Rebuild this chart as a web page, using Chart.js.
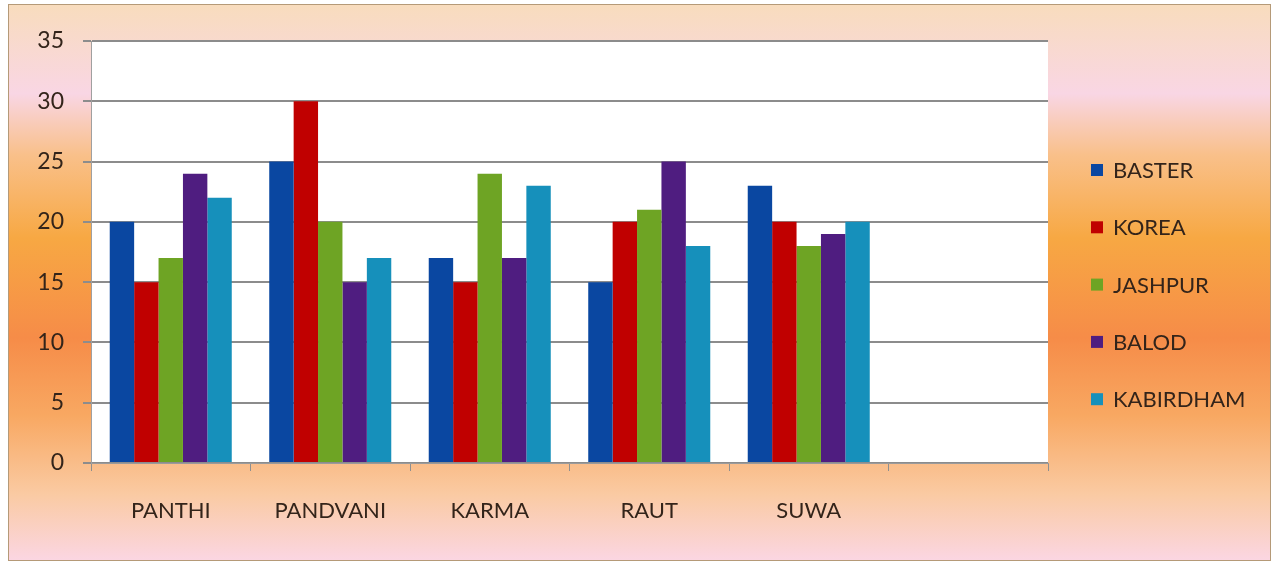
<!DOCTYPE html>
<html>
<head>
<meta charset="utf-8">
<script src="https://cdn.jsdelivr.net/npm/chart.js@4/dist/chart.umd.min.js"></script>
<style>
  html, body { margin: 0; padding: 0; background: #fff; }
  #box {
    position: absolute; left: 8px; top: 4px; width: 1261px; height: 555px;
    border: 1px solid #b59a78;
    background: linear-gradient(to bottom,
      #f8dcbd 0%, #f9d6e4 16%, #f9c08a 27%, #f7a843 42%,
      #f68c48 60%, #f8a862 74%, #facaa2 88%, #fbd6e2 100%);
  }
  #chart { display: block; }
</style>
</head>
<body>
<div id="box"><canvas id="chart" width="1261" height="555"></canvas></div>
<script>
// ===== DATA =====
const categories = ['PANTHI', 'PANDVANI', 'KARMA', 'RAUT', 'SUWA', ''];
const seriesNames = ['BASTER', 'KOREA', 'JASHPUR', 'BALOD', 'KABIRDHAM'];
const baster    = [20, 25, 17, 15, 23, null];
const korea     = [15, 30, 15, 20, 20, null];
const jashpur   = [17, 20, 24, 21, 18, null];
const balod     = [24, 15, 17, 25, 19, null];
const kabirdham = [22, 17, 23, 18, 20, null];
const yTicks = [0, 5, 10, 15, 20, 25, 30, 35];

const colors = ['#0a47a1', '#c00000', '#6ea424', '#4f1d80', '#1690bb'];
const values = [baster, korea, jashpur, balod, kabirdham];

const textColor = '#33241a';
const fontFam = 'Lato, "Open Sans", sans-serif';

// white plot area
const plotBg = {
  id: 'plotBg',
  beforeDraw(chart) {
    const a = chart.chartArea, c = chart.ctx;
    c.save();
    c.fillStyle = '#ffffff';
    c.fillRect(a.left, a.top, a.right - a.left, a.bottom - a.top);
    c.restore();
  }
};

// legend on the right, excel style
const sideLegend = {
  id: 'sideLegend',
  afterDraw(chart) {
    const c = chart.ctx;
    c.save();
    c.font = '22px ' + fontFam;
    c.textBaseline = 'middle';
    chart.data.datasets.forEach((ds, i) => {
      const y = 165 + i * 57.3;
      c.fillStyle = ds.backgroundColor;
      c.fillRect(1082, y - 6, 12, 12);
      c.fillStyle = textColor;
      c.fillText(ds.label, 1104, y + 1);
    });
    c.restore();
  }
};

new Chart(document.getElementById('chart'), {
  type: 'bar',
  data: {
    labels: categories,
    datasets: seriesNames.map((name, i) => ({
      label: name,
      data: values[i],
      backgroundColor: colors[i],
      borderWidth: 0,
      barPercentage: 1.0,
      categoryPercentage: 0.765
    }))
  },
  options: {
    responsive: false,
    animation: false,
    layout: { padding: { top: 36, right: 222, left: 0, bottom: 0 } },
    plugins: {
      legend: { display: false },
      tooltip: { enabled: false }
    },
    scales: {
      x: {
        grid: { offset: true, drawOnChartArea: false, color: '#8f8f8f', tickLength: 8, lineWidth: 1 },
        border: { color: '#9a9a9a', width: 1 },
        ticks: { color: textColor, font: { family: fontFam, size: 22 }, padding: 27 },
        afterFit(s) { s.height = 97; }
      },
      y: {
        min: 0, max: 35,
        afterBuildTicks(s) { s.ticks = yTicks.map(v => ({ value: v })); },
        grid: { color: '#8c8c8c', lineWidth: 2, tickLength: 8 },
        border: { color: '#a0a0a0', width: 1 },
        ticks: { color: textColor, font: { family: fontFam, size: 23 }, padding: 19 },
        afterFit(s) { s.width = 82; }
      }
    }
  },
  plugins: [plotBg, sideLegend]
});
</script>
</body>
</html>
